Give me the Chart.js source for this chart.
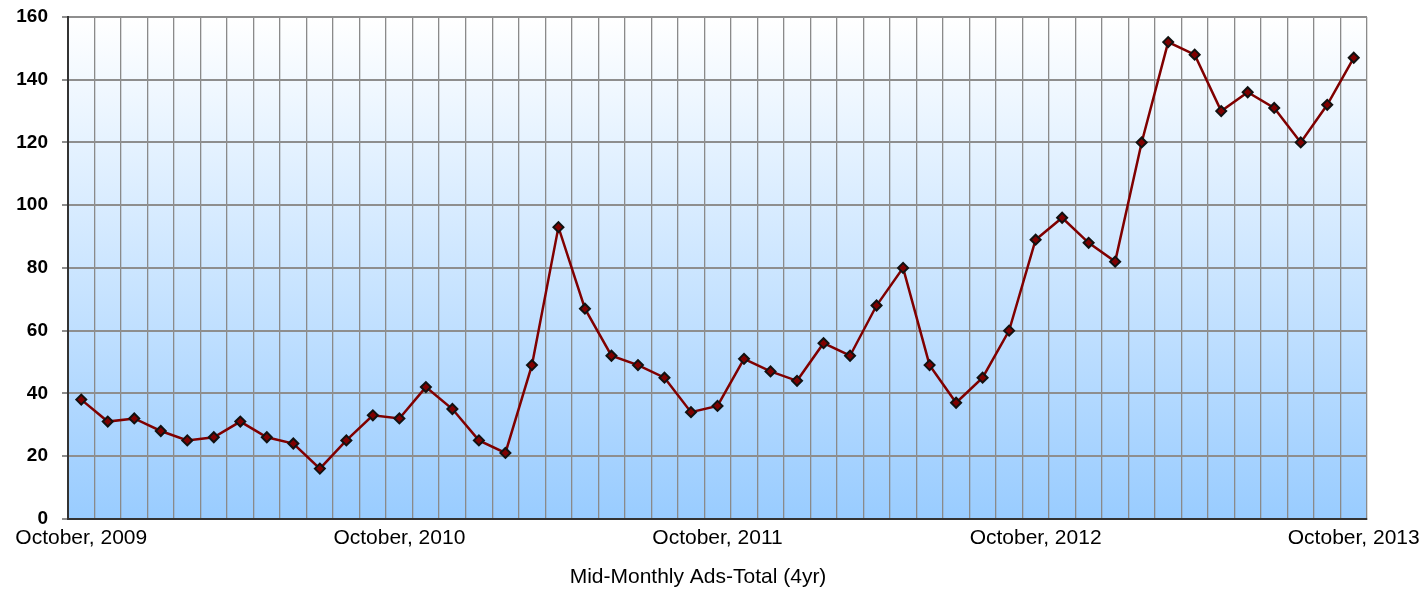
<!DOCTYPE html>
<html>
<head>
<meta charset="utf-8">
<script src="https://cdn.jsdelivr.net/npm/chart.js@4.4.1/dist/chart.umd.min.js"></script>
<style>
  html, body { margin: 0; padding: 0; background: #ffffff; }
  #wrap { width: 1423px; height: 589px; position: relative; }
</style>
</head>
<body>
<div id="wrap"><canvas id="c" width="1423" height="589"></canvas></div>
<script>
const categories = [
  "2009-10","2009-11","2009-12","2010-01","2010-02","2010-03","2010-04","2010-05","2010-06","2010-07","2010-08","2010-09",
  "2010-10","2010-11","2010-12","2011-01","2011-02","2011-03","2011-04","2011-05","2011-06","2011-07","2011-08","2011-09",
  "2011-10","2011-11","2011-12","2012-01","2012-02","2012-03","2012-04","2012-05","2012-06","2012-07","2012-08","2012-09",
  "2012-10","2012-11","2012-12","2013-01","2013-02","2013-03","2013-04","2013-05","2013-06","2013-07","2013-08","2013-09",
  "2013-10"
];
const adsTotal = [
  38, 31, 32, 28, 25, 26, 31, 26, 24, 16, 25, 33,
  32, 42, 35, 25, 21, 49, 93, 67, 52, 49, 45, 34,
  36, 51, 47, 44, 56, 52, 68, 80, 49, 37, 45, 60,
  89, 96, 88, 82, 120, 152, 148, 130, 136, 131, 120, 132,
  147
];
const tickLabels = ["October, 2009", "October, 2010", "October, 2011", "October, 2012", "October, 2013"];
const yTicks = [0, 20, 40, 60, 80, 100, 120, 140, 160];
const chartTitle = "Mid-Monthly Ads-Total (4yr)";

const bgPlugin = {
  id: 'plotBg',
  beforeDraw(chart) {
    const a = chart.chartArea;
    const ctx = chart.ctx;
    const g = ctx.createLinearGradient(0, a.top, 0, a.bottom);
    g.addColorStop(0, '#ffffff');
    g.addColorStop(1, '#99ccff');
    ctx.save();
    ctx.fillStyle = g;
    ctx.fillRect(a.left, a.top, a.right - a.left, a.bottom - a.top);
    ctx.restore();
  }
};

const FONT = "'Liberation Sans', Arial, sans-serif";

new Chart(document.getElementById('c'), {
  type: 'line',
  data: {
    labels: categories,
    datasets: [{
      label: 'Ads-Total',
      data: adsTotal,
      borderColor: '#800000',
      borderWidth: 2.5,
      tension: 0,
      pointStyle: 'rectRot',
      pointRadius: 5,
      pointHoverRadius: 5,
      pointBackgroundColor: '#800000',
      pointBorderColor: '#111111',
      pointBorderWidth: 2
    }]
  },
  options: {
    responsive: false,
    animation: false,
    events: [],
    layout: { padding: { left: 0, right: 27, top: 17, bottom: 0 } },
    plugins: {
      legend: { display: false },
      tooltip: { enabled: false },
      title: {
        display: true,
        text: chartTitle,
        position: 'bottom',
        color: '#000000',
        font: { family: FONT, size: 21, weight: 'normal', lineHeight: 1.0 },
        padding: { top: 9, bottom: 1 }
      }
    },
    scales: {
      x: {
        type: 'category',
        offset: true,
        afterFit: (scale) => { scale.paddingRight = 56; },
        grid: {
          offset: true,
          drawTicks: false,
          tickLength: 0,
          color: '#8a8a8a',
          lineWidth: (ctx) => (ctx.index === categories.length ? 2 : 1.3)
        },
        border: { display: true, color: '#333333', width: 2 },
        ticks: {
          autoSkip: false,
          maxRotation: 0,
          minRotation: 0,
          padding: 7,
          color: '#000000',
          font: { family: FONT, size: 21 },
          callback: (val, i) => (i % 12 === 0 ? tickLabels[i / 12] : '')
        }
      },
      y: {
        min: yTicks[0],
        max: yTicks[yTicks.length - 1],
        afterFit: (scale) => { scale.width = 68; scale.paddingTop = 0; scale.paddingBottom = 0; },
        afterBuildTicks: (scale) => { scale.ticks = yTicks.map(v => ({ value: v })); },
        grid: {
          color: '#8e8e8e',
          lineWidth: 2,
          drawTicks: true,
          tickLength: 6
        },
        border: { display: true, color: '#333333', width: 2 },
        ticks: {
          padding: 14,
          color: '#000000',
          font: { family: FONT, size: 19, weight: 'bold' }
        }
      }
    }
  },
  plugins: [bgPlugin]
});
</script>
</body>
</html>
